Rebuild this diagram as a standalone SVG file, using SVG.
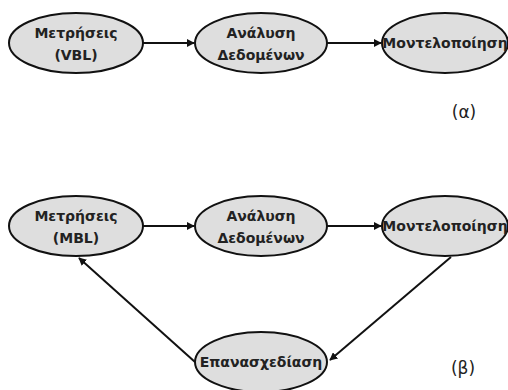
<svg xmlns="http://www.w3.org/2000/svg" width="508" height="390" viewBox="0 0 508 390">
<style>
.n{fill:#dedede;stroke:#111;stroke-width:2}
.t{font-family:"DejaVu Sans",Verdana,sans-serif;font-weight:bold;font-size:14px;fill:#222;text-anchor:middle}
.c{stroke:#111;stroke-width:2;fill:none;marker-end:url(#a)}
.l{font-family:"DejaVu Sans",Verdana,sans-serif;font-size:17px;fill:#222;text-anchor:middle}
</style>
<defs>
<marker id="a" viewBox="0 0 10 10" refX="9" refY="5" markerWidth="4" markerHeight="4" orient="auto" markerUnits="strokeWidth">
<path d="M0,0 L10,5 L0,10 z" fill="#111"/>
</marker>
</defs>
<rect width="508" height="390" fill="#fff"/>
<g id="connectors">
<line class="c" x1="143" y1="43" x2="194" y2="43"/>
<line class="c" x1="327" y1="43" x2="381" y2="43"/>
<line class="c" x1="143" y1="226" x2="194" y2="226"/>
<line class="c" x1="327" y1="226" x2="381" y2="226"/>
<line class="c" x1="451" y1="257" x2="330" y2="360"/>
<line class="c" x1="195" y1="362" x2="79" y2="258"/>
</g>
<g id="n1"><ellipse class="n" cx="76" cy="43" rx="67" ry="30"/><text class="t" x="76" y="38">Μετρήσεις</text><text class="t" x="76" y="60">(VBL)</text></g>
<g id="n2"><ellipse class="n" cx="261" cy="43" rx="66" ry="30"/><text class="t" x="261" y="38">Ανάλυση</text><text class="t" x="261" y="60">Δεδομένων</text></g>
<g id="n3"><ellipse class="n" cx="445" cy="43" rx="63" ry="30"/><text class="t" x="445" y="48">Μοντελοποίηση</text></g>
<text class="l" x="464" y="118">(α)</text>
<g id="n4"><ellipse class="n" cx="76" cy="226" rx="67" ry="30"/><text class="t" x="76" y="221">Μετρήσεις</text><text class="t" x="76" y="243">(MBL)</text></g>
<g id="n5"><ellipse class="n" cx="261" cy="226" rx="66" ry="30"/><text class="t" x="261" y="221">Ανάλυση</text><text class="t" x="261" y="243">Δεδομένων</text></g>
<g id="n6"><ellipse class="n" cx="445" cy="226" rx="63" ry="30"/><text class="t" x="445" y="231">Μοντελοποίηση</text></g>
<g id="n7"><ellipse class="n" cx="261" cy="362" rx="66" ry="30"/><text class="t" x="261" y="367">Επανασχεδίαση</text></g>
<text class="l" x="463" y="374">(β)</text>
</svg>
